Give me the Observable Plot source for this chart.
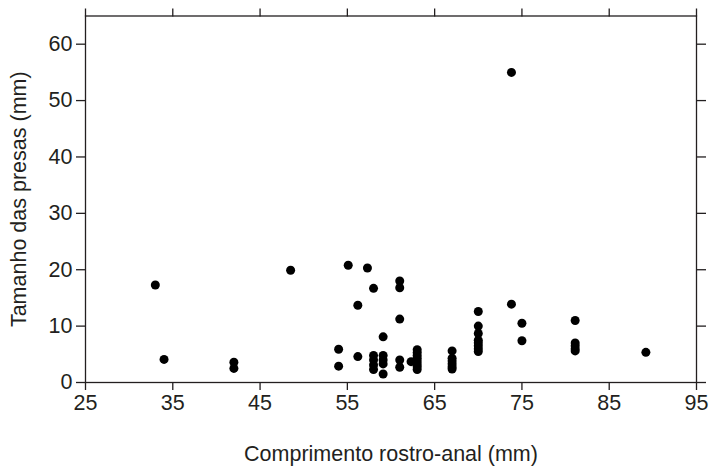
<!DOCTYPE html>
<html>
<head>
<meta charset="utf-8">
<script src="https://cdn.jsdelivr.net/npm/d3@7"></script>
<script src="https://cdn.jsdelivr.net/npm/@observablehq/plot@0.6"></script>
<style>
  html, body { margin: 0; padding: 0; background: #fff; }
</style>
</head>
<body>
<div id="chart"></div>
<script>
// Comprimento rostro-anal (mm)
const comprimento = [
  33, 34, 42, 42, 48.5, 54, 54, 55.1, 56.2, 56.2, 57.3,
  58, 58, 58, 58, 58,
  59.1, 59.1, 59.1, 59.1, 59.1,
  61, 61, 61, 61, 61,
  62.3,
  63, 63, 63, 63, 63, 63, 63, 63,
  67, 67, 67, 67, 67, 67,
  70, 70, 70, 70, 70, 70, 70, 70,
  73.8, 73.8, 75, 75,
  81.1, 81.1, 81.1, 81.1, 81.1,
  89.2
];
// Tamanho das presas (mm)
const tamanho = [
  17.3, 4.1, 3.6, 2.5, 19.9, 5.9, 2.9, 20.8, 13.7, 4.6, 20.3,
  16.7, 4.8, 4.0, 3.1, 2.3,
  8.1, 4.8, 4.0, 3.3, 1.5,
  18.0, 16.8, 11.25, 4.0, 2.7,
  3.7,
  5.8, 5.3, 4.8, 4.3, 3.8, 3.3, 2.8, 2.3,
  5.6, 4.3, 3.8, 3.3, 2.8, 2.4,
  12.6, 10.0, 8.7, 7.5, 7.0, 6.5, 6.0, 5.5,
  55.0, 13.9, 10.5, 7.4,
  11.0, 7.0, 6.5, 6.0, 5.6,
  5.35
];
const xTicks = [25, 35, 45, 55, 65, 75, 85, 95];
const yTicks = [0, 10, 20, 30, 40, 50, 60];

const data = comprimento.map((x, i) => ({x, y: tamanho[i]}));
const ink = "#231f20";
const font = "'Liberation Sans', Arial, sans-serif";

const chart = Plot.plot({
  width: 709,
  height: 466,
  marginLeft: 85,
  marginRight: 13,
  marginTop: 15.5,
  marginBottom: 84,
  style: {fontFamily: font, fontSize: "21.5px", color: ink, background: "#fff"},
  x: {domain: [25, 95]},
  y: {domain: [0, 65]},
  marks: [
    Plot.frame({stroke: ink, strokeWidth: 1.3}),
    Plot.axisX({anchor: "bottom", ticks: xTicks, tickSize: 8, tickPadding: 4, strokeWidth: 1.3,
      fill: ink,
      label: "Comprimento rostro-anal (mm)", labelAnchor: "center", labelArrow: "none", labelOffset: 78}),
    Plot.axisX({anchor: "top", ticks: xTicks, tickSize: 8, strokeWidth: 1.3, tickFormat: () => "", label: null}),
    Plot.axisY({anchor: "left", ticks: yTicks, tickSize: 9, tickPadding: 4, strokeWidth: 1.3,
      fill: ink,
      label: "Tamanho das presas (mm)", labelAnchor: "center", labelArrow: "none", labelOffset: 75}),
    Plot.axisY({anchor: "right", ticks: yTicks, tickSize: 9, strokeWidth: 1.3, tickFormat: () => "", label: null}),
    Plot.dot(data, {x: "x", y: "y", r: 4.5, fill: "#000", stroke: "none"})
  ]
});
document.getElementById("chart").appendChild(chart);
</script>
</body>
</html>
